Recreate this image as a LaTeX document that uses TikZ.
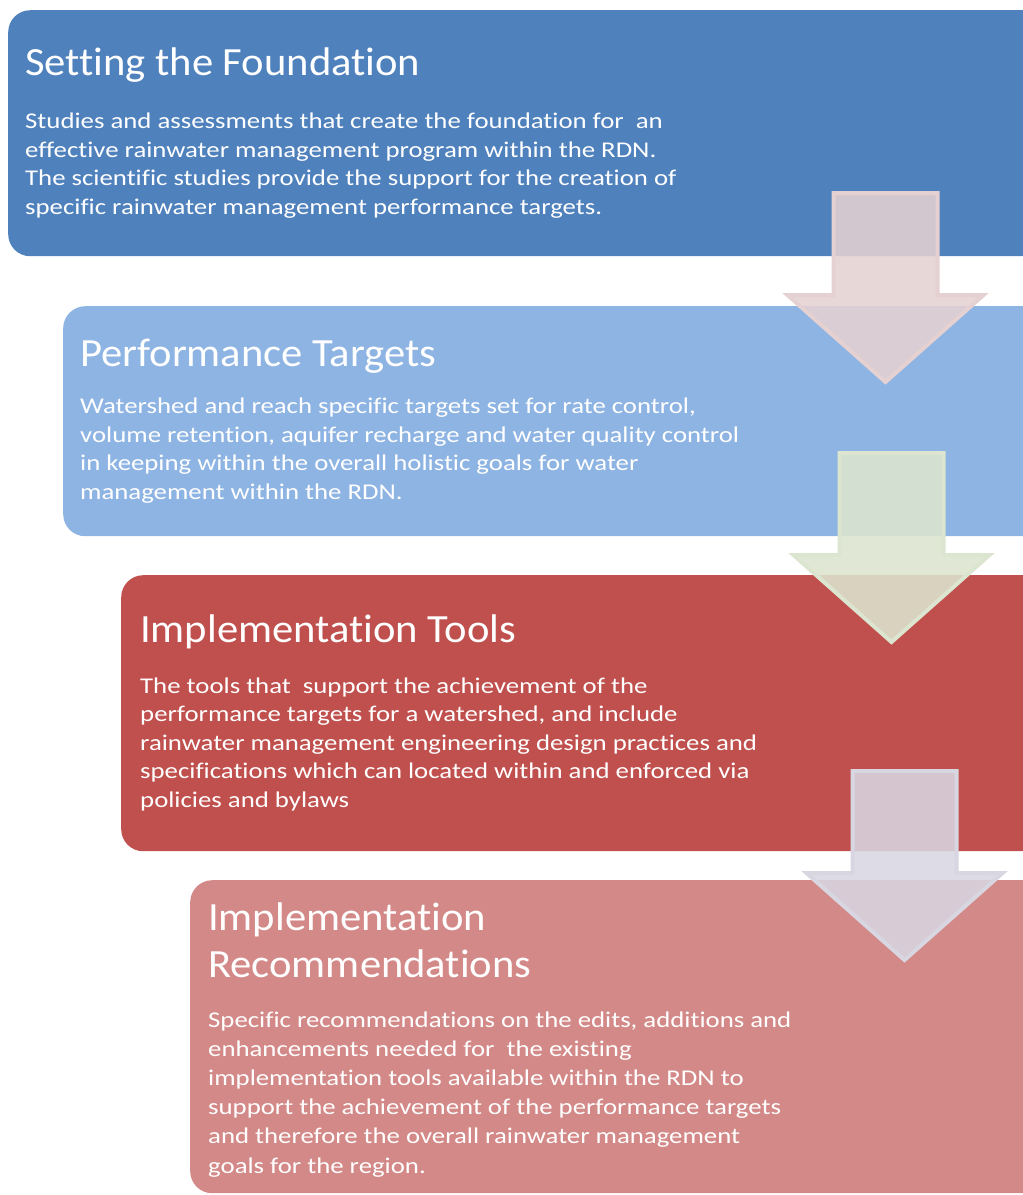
\documentclass[tikz,border=0pt]{standalone}
\usepackage{fontspec}
\setmainfont{Carlito}
\newfontfamily\headfont[FakeStretch=1.065,Ligatures=NoCommon]{Carlito}
\newfontfamily\bodyfont[FakeStretch=1.19,Ligatures=NoCommon]{Carlito}

\definecolor{foundblue}{HTML}{4F81BD}
\definecolor{targetblue}{HTML}{8EB4E3}
\definecolor{toolred}{HTML}{C0504D}
\definecolor{recopink}{HTML}{D38987}
\definecolor{arrowrose}{HTML}{E5D1D1}
\definecolor{arrowsage}{HTML}{DCE5CF}
\definecolor{arrowlilac}{HTML}{D8D6E1}

% block arrow pointing down: centre x, top y, colour
\newcommand{\flowarrow}[3]{%
  \draw[flowarrow,fill=#3,draw=#3]
    (#1-52,#2) -- (#1+52,#2) -- (#1+52,#2+102) -- (#1+98,#2+102)
    -- (#1,#2+189) -- (#1-98,#2+102) -- (#1-52,#2+102) -- cycle;}

\begin{document}
\begin{tikzpicture}[x=1pt,y=-1pt,
    stage/.style={rounded corners=22pt,anchor=north west,inner sep=0pt,draw=none},
    heading/.style={anchor=base west,text=white,inner sep=0pt,align=left,
      font=\headfont\fontsize{40}{47}\selectfont},
    blurb/.style={anchor=base west,text=white,inner sep=0pt,align=left,
      font=\bodyfont\fontsize{22.5}{28.5}\selectfont},
    flowarrow/.style={fill opacity=.88,draw opacity=1,line width=4pt,line join=miter}]
  \useasboundingbox (0,0) rectangle (1023,1195);

  % the four stages
  \node[stage,fill=foundblue,minimum width=1040pt,minimum height=246pt] (found) at (8,10) {};
  \node[stage,fill=targetblue,minimum width=985pt,minimum height=230pt] (target) at (63,306) {};
  \node[stage,fill=toolred,minimum width=927pt,minimum height=276pt] (tools) at (121,575) {};
  \node[stage,fill=recopink,minimum width=858pt,minimum height=313pt] (reco) at (190,880) {};

  % headings (base = last line)
  \node[heading] (foundtitle) at (25,75) {Setting the Foundation};
  \node[heading] (targettitle) at (80,366) {Performance Targets};
  \node[heading] (toolstitle) at (140,642) {Implementation Tools};
  \node[heading] (recotitle) at (208,977) {Implementation\\Recommendations};

  % descriptions (base = last line)
  \node[blurb] (foundtext) at (25,214) {Studies and assessments that create the foundation for\ \ an\\
    effective rainwater management program within the RDN.\\
    The scientific studies provide the support for the creation of\\
    specific rainwater management performance targets.};
  \node[blurb] (targettext) at (80,499) {Watershed and reach specific targets set for rate control,\\
    volume retention, aquifer recharge and water quality control\\
    in keeping within the overall holistic goals for water\\
    management within the RDN.};
  \node[blurb] (toolstext) at (140,807) {The tools that\ \ support the achievement of the\\
    performance targets for a watershed, and include\\
    rainwater management engineering design practices and\\
    specifications which can located within and enforced via\\
    policies and bylaws};
  \node[blurb,font=\bodyfont\fontsize{22.5}{29.2}\selectfont] (recotext) at (208,1173) {Specific recommendations on the edits, additions and\\
    enhancements needed for\ \ the existing\\
    implementation tools available within the RDN to\\
    support the achievement of the performance targets\\
    and therefore the overall rainwater management\\
    goals for the region.};

  % arrows between stages
  \flowarrow{885.5}{193}{arrowrose}
  \flowarrow{891.5}{453}{arrowsage}
  \flowarrow{904.5}{771}{arrowlilac}
\end{tikzpicture}
\end{document}
